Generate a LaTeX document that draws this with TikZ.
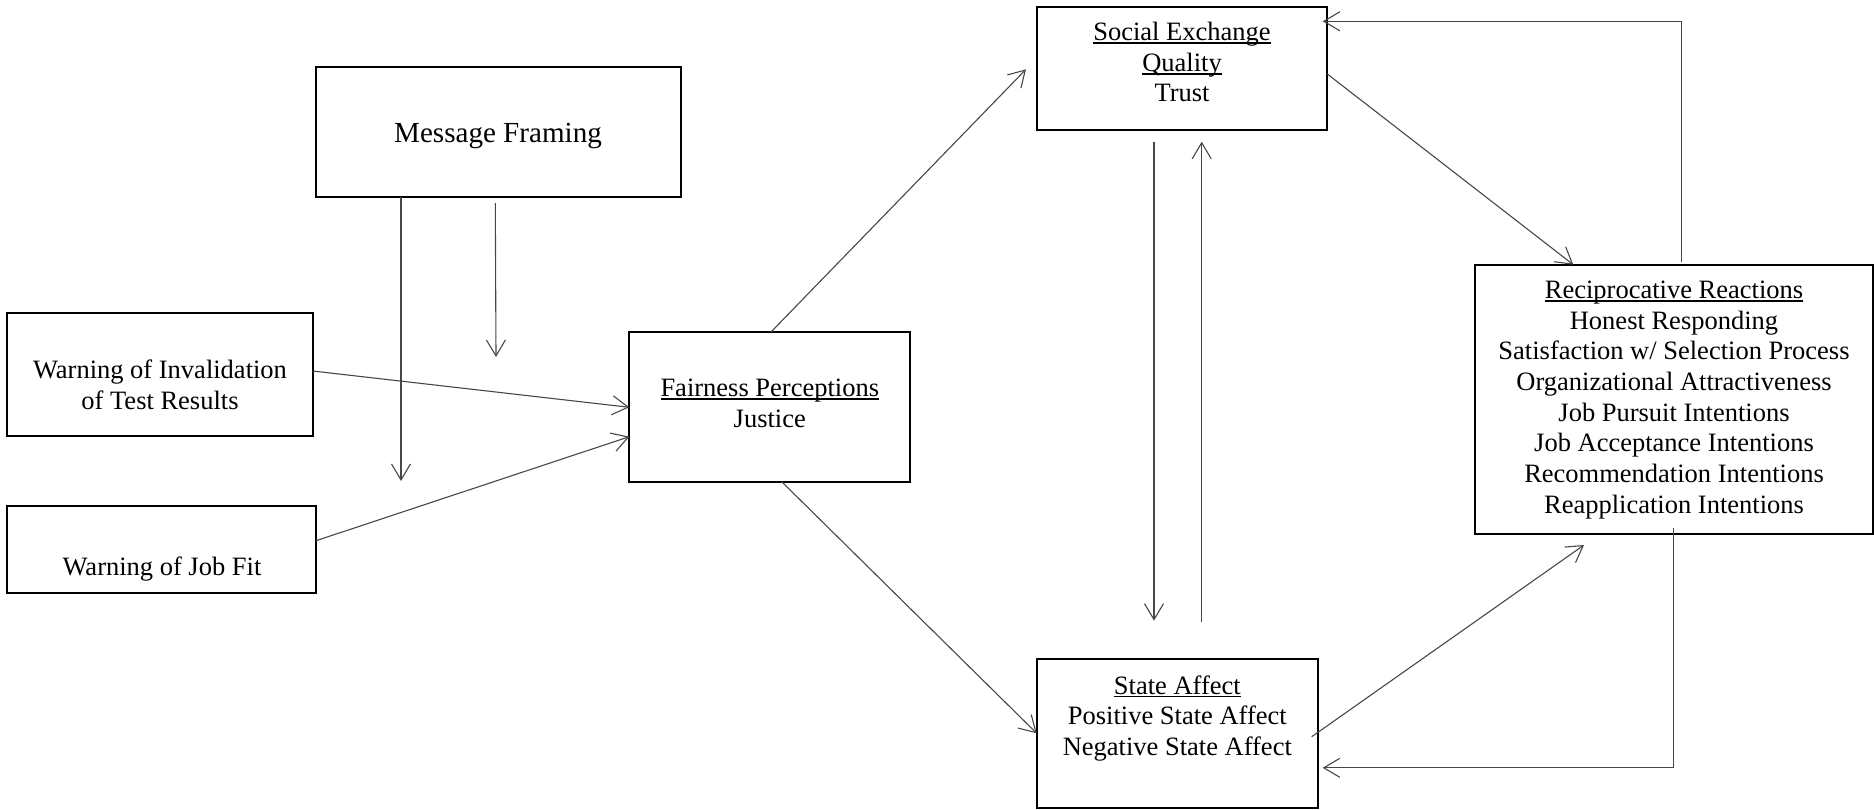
\documentclass[tikz,border=0pt]{standalone}
\usepackage{fontspec}
\setmainfont{Liberation Serif}
\usetikzlibrary{arrows.meta}
% underline sitting just below the baseline, crossing descenders
\newcommand\ulword[1]{\leavevmode\setbox0=\hbox{#1}\rlap{\rule[-3.4pt]{\wd0}{1.5pt}}\box0}
\begin{document}
\begin{tikzpicture}[x=1pt,y=-1pt,
  box/.style={draw=black, line width=1.8pt, rectangle, inner sep=0pt, outer sep=0pt},
  txt/.style={anchor=base, inner sep=0pt, font=\fontsize{26.5}{30.7}\selectfont},
  conn/.style={draw=black!72, line width=1.1pt, -{Straight Barb[length=16pt,width=19pt]}},
  plain/.style={draw=black!72, line width=1.1pt}]
\useasboundingbox (0,0) rectangle (1874,809);

% boxes
\node[box, minimum width=365pt, minimum height=129.7pt] (mf) at (498.2,132.15) {};
\node[box, minimum width=305.4pt, minimum height=122.7pt] (wi) at (160,374.65) {};
\node[box, minimum width=308.7pt, minimum height=87pt] (jf) at (161.65,549.2) {};
\node[box, minimum width=281pt, minimum height=149.4pt] (fp) at (769.8,407) {};
\node[box, minimum width=290.6pt, minimum height=123.3pt] (se) at (1182,68.35) {};
\node[box, minimum width=281pt, minimum height=148.4pt] (sa) at (1177.2,733.5) {};
\node[box, minimum width=398pt, minimum height=269.3pt] (rr) at (1674.3,399.35) {};

% box texts
\node[txt, font=\fontsize{29.1}{33}\selectfont] (mf-t) at (498,142.7) {Message Framing};
\node[txt] (wi-t1) at (160,378.3) {Warning of Invalidation};
\node[txt] (wi-t2) at (160,409) {of Test Results};
\node[txt] (jf-t) at (162,575) {Warning of Job Fit};
\node[txt] (fp-t1) at (769.8,396.5) {\ulword{Fairness Perceptions}};
\node[txt] (fp-t2) at (769.8,427.5) {Justice};
\node[txt] (se-t1) at (1182,40.5) {\ulword{Social Exchange}};
\node[txt] (se-t2) at (1182,71.2) {\ulword{Quality}};
\node[txt] (se-t3) at (1182,101.9) {Trust};
\node[txt] (sa-t1) at (1177.3,694) {\ulword{State Affect}};
\node[txt] (sa-t2) at (1177.3,724.5) {Positive State Affect};
\node[txt] (sa-t3) at (1177.3,755) {Negative State Affect};
\foreach \line [count=\i] in {{\ulword{Reciprocative Reactions}}, Honest Responding,
    Satisfaction w/ Selection Process, Organizational Attractiveness,
    Job Pursuit Intentions, Job Acceptance Intentions,
    Recommendation Intentions, Reapplication Intentions}
  \node[txt] (rr-t\i) at (1674,{267.6+30.7*\i}) {\line};

% free ends of connectors
\coordinate (mfA) at (401,481);
\coordinate (mfB0) at (495.3,203);
\coordinate (mfB) at (496,357);
\coordinate (seIn) at (1026,69.3);
\coordinate (dnA) at (1154,141.7);
\coordinate (dnB) at (1154,620.7);
\coordinate (upA) at (1201.7,621.7);
\coordinate (upB) at (1201.7,141.7);
\coordinate (saOut) at (1311.7,736.7);
\coordinate (rrIn) at (1584,545);
\coordinate (topA) at (1681.7,261.7);
\coordinate (topB) at (1681.7,21.3);
\coordinate (topC) at (1322.7,21.3);
\coordinate (botA) at (1673.3,528.3);
\coordinate (botB) at (1673.3,767.8);
\coordinate (botC) at (1322.7,767.8);

% connectors
\draw[conn] (mf.south -| 401,0) -- (mfA);
\draw[conn] (mfB0) -- (mfB);
\draw[conn] (wi.east |- 0,371) -- (fp.west |- 0,407.3);
\draw[conn] (jf.east |- 0,540.7) -- (fp.west |- 0,436.7);
\draw[conn] (fp.north -| 770.7,0) -- (seIn);
\draw[conn] (fp.south -| 781.7,0) -- (sa.west |- 0,733.3);
\draw[conn] (dnA) -- (dnB);
\draw[conn] (upA) -- (upB);
\draw[conn] (se.east |- 0,74) -- (rr.north -| 1573.3,0);
\draw[conn] (saOut) -- (rrIn);
\draw[conn] (topA) -- (topB) -- (topC);
\draw[conn] (botA) -- (botB) -- (botC);
\end{tikzpicture}
\end{document}
